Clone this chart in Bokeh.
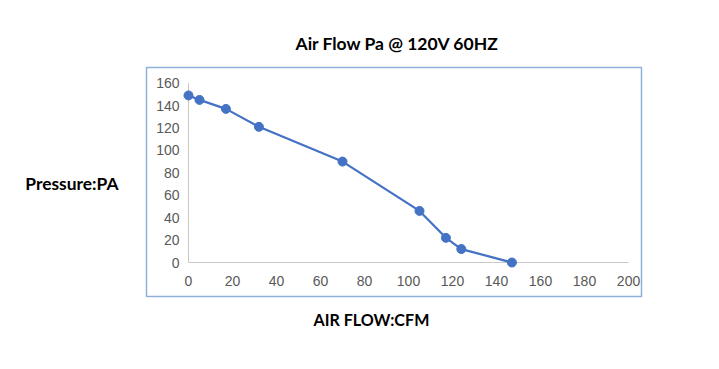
from bokeh.plotting import figure
from bokeh.models import Range1d, Title, LinearAxis, FixedTicker, ColumnDataSource
from bokeh.core.properties import value
from bokeh.embed import file_html
from bokeh.resources import INLINE

# Data
flow_cfm = [0, 5, 17, 32, 70, 105, 117, 124, 147]
pressure_pa = [149, 145, 137, 121, 90, 46, 22, 12, 0]
x_ticks = [0, 20, 40, 60, 80, 100, 120, 140, 160, 180, 200]
y_ticks = [0, 20, 40, 60, 80, 100, 120, 140, 160]

title_text = "Air Flow Pa  @ 120V 60HZ"
x_label = "AIR FLOW:CFM"
y_label = "Pressure:PA"
Y_LABEL_POS = 70.5  # vertical placement of the side label (in pressure units)

BLUE = "#4472c4"
GRAY_AX = "#c8c8c8"
TICK_COL = "#595959"

p = figure(width=703, height=353, output_backend="svg", toolbar_location=None,
           x_range=Range1d(-19.09, 205.9), y_range=Range1d(-30.32, 173.9),
           min_border_left=146, min_border_right=62, min_border_top=67, min_border_bottom=57)
p.axis.visible = False
p.grid.visible = False
p.outline_line_color = "#8fb0d8"
p.outline_line_width = 1.5
p.background_fill_color = "white"
p.border_fill_color = "white"

# axis lines
xmin, xmax = x_ticks[0], x_ticks[-1]
ymin, ymax = y_ticks[0], y_ticks[-1]
p.segment(x0=[xmin], y0=[ymin], x1=[xmax], y1=[ymin], line_color=GRAY_AX, line_width=1)
p.segment(x0=[xmin], y0=[ymin], x1=[xmin], y1=[ymax], line_color=GRAY_AX, line_width=1)

# tick labels
p.text(x=x_ticks, y=[ymin] * len(x_ticks), text=[str(t) for t in x_ticks],
       text_align="center", text_baseline="middle", y_offset=18,
       text_font=value("Liberation Sans"), text_font_size="14px", text_color=TICK_COL)
p.text(x=[xmin] * len(y_ticks), y=y_ticks, text=[str(t) for t in y_ticks],
       text_align="right", text_baseline="middle", x_offset=-9,
       text_font=value("Liberation Sans"), text_font_size="14px", text_color=TICK_COL)

src = ColumnDataSource(dict(x=flow_cfm, y=pressure_pa))
p.line("x", "y", source=src, line_color=BLUE, line_width=2.25)
p.scatter("x", "y", source=src, size=9, fill_color=BLUE, line_color=BLUE)

# side label as horizontal axis label
side = LinearAxis(ticker=FixedTicker(ticks=[Y_LABEL_POS]),
                  major_label_overrides={Y_LABEL_POS: y_label},
                  axis_line_color=None, major_tick_line_color=None, minor_tick_line_color=None,
                  major_tick_out=0, major_label_standoff=28,
                  major_label_text_font="Lato", major_label_text_font_style="bold",
                  major_label_text_font_size="17.4px", major_label_text_color="black")
p.add_layout(side, "left")

p.add_layout(Title(text=title_text, align="left", text_font="Lato", text_font_style="bold",
                   text_font_size="17.5px", text_color="black", standoff=28, offset=149), "above")
p.add_layout(Title(text=x_label, align="left", text_font="Lato", text_font_style="bold",
                   text_font_size="16.1px", text_color="black", standoff=22, offset=167), "below")

open("out.html", "w").write(file_html(p, INLINE))
